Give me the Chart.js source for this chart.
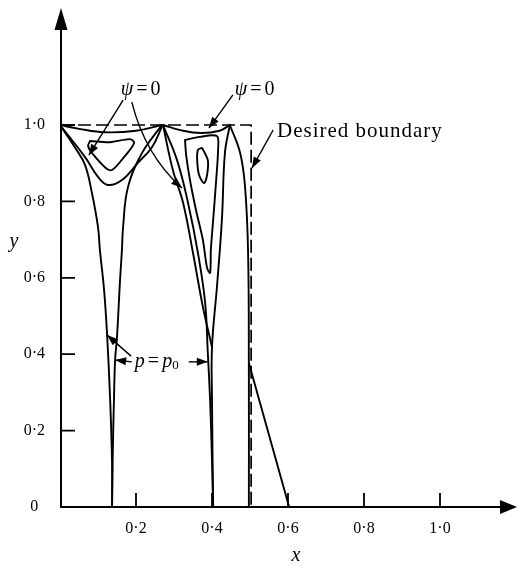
<!DOCTYPE html>
<html>
<head>
<meta charset="utf-8">
<script src="https://cdn.jsdelivr.net/npm/chart.js@4.4.1/dist/chart.umd.min.js"></script>
<style>
  html, body { margin: 0; padding: 0; background: #fff; }
  #wrap { width: 518px; height: 568px; }
</style>
</head>
<body>
<div id="wrap"><canvas id="cavityChart"></canvas></div>
<script>
// tick labels
const xTicks = [0.2, 0.4, 0.6, 0.8, 1.0];
const yTicks = [0, 0.2, 0.4, 0.6, 0.8, 1.0];

// curves, [x, y]
const topArcLeft  = [[0, 1.0], [0.05, 0.99], [0.118, 0.981], [0.2, 0.985], [0.268, 1.0]];
const topArcRight = [[0.271, 1.0], [0.32, 0.986], [0.37, 0.979], [0.42, 0.985], [0.447, 1.0]];

const lobe1Left  = [[0, 1.0], [0.039, 0.942], [0.066, 0.895], [0.084, 0.822], [0.1, 0.733], [0.105, 0.673],
                    [0.116, 0.568], [0.124, 0.45], [0.132, 0.28], [0.137, 0.115], [0.137, 0]];
const lobe1Right = [[0.268, 1.0], [0.216, 0.927], [0.179, 0.838], [0.166, 0.733], [0.163, 0.673], [0.158, 0.594],
                    [0.15, 0.445], [0.145, 0.385], [0.142, 0.28], [0.139, 0.149], [0.137, 0]];
const lobe1Vee   = [[0, 1.0], [0.066, 0.916], [0.1, 0.864], [0.126, 0.843], [0.163, 0.856], [0.205, 0.901],
                    [0.242, 0.942], [0.268, 0.995]];
const lobe1Loop  = [[0.079, 0.958], [0.132, 0.955], [0.184, 0.963], [0.195, 0.953], [0.171, 0.919], [0.137, 0.882],
                    [0.121, 0.887], [0.084, 0.927], [0.074, 0.945], [0.079, 0.958]];

const lobe2Sweep = [[0.271, 1.0], [0.297, 0.882], [0.324, 0.796], [0.35, 0.665], [0.376, 0.524], [0.4, 0.419]];
const lobe2Left  = [[0.271, 1.0], [0.308, 0.908], [0.337, 0.796], [0.363, 0.665], [0.382, 0.534], [0.389, 0.403],
                    [0.395, 0.28], [0.4, 0.123], [0.403, 0]];
const lobe2U     = [[0.329, 0.961], [0.368, 0.969], [0.413, 0.971], [0.416, 0.935], [0.411, 0.856], [0.403, 0.751],
                    [0.397, 0.673], [0.395, 0.613], [0.387, 0.626], [0.376, 0.699], [0.358, 0.777], [0.342, 0.856],
                    [0.332, 0.921], [0.329, 0.961]];
const lobe2Loop  = [[0.374, 0.94], [0.389, 0.908], [0.387, 0.869], [0.379, 0.848], [0.366, 0.869], [0.361, 0.908],
                    [0.363, 0.935], [0.374, 0.94]];
const lobe2Right = [[0.447, 1.0], [0.434, 0.927], [0.426, 0.751], [0.413, 0.576], [0.4, 0.419], [0.4, 0.28], [0.403, 0]];

const outerStreamline = [[0.447, 1.0], [0.474, 0.927], [0.487, 0.838], [0.495, 0.665], [0.497, 0.359], [0.497, 0]];
const jetLine = [[0.497, 0.377], [0.603, 0]];
const desiredBoundary = [[0, 1.0], [0.503, 1.0], [0.503, 0]];

const fmt = v => (v === 0 ? '0' : v.toFixed(1).replace('.', '\u00b7'));
const pts = arr => arr.map(p => ({ x: p[0], y: p[1] }));

function curve(arr, extra) {
  return Object.assign({
    data: pts(arr),
    showLine: true,
    borderColor: '#000',
    borderWidth: 1.9,
    pointRadius: 0,
    tension: 0.4,
    fill: false,
    borderCapStyle: 'round',
    borderJoinStyle: 'round'
  }, extra || {});
}

const SERIF = "'Liberation Serif', 'DejaVu Serif', serif";
Chart.defaults.font.family = SERIF;
Chart.defaults.color = '#000';

function arrowHead(ctx, x0, y0, x1, y1, len, half) {
  const a = Math.atan2(y1 - y0, x1 - x0);
  ctx.beginPath();
  ctx.moveTo(x1, y1);
  ctx.lineTo(x1 - len * Math.cos(a) + half * Math.sin(a), y1 - len * Math.sin(a) - half * Math.cos(a));
  ctx.lineTo(x1 - len * Math.cos(a) - half * Math.sin(a), y1 - len * Math.sin(a) + half * Math.cos(a));
  ctx.closePath();
  ctx.fill();
}

function drawParts(ctx, x, y, parts) {
  parts.forEach(p => {
    ctx.font = p.font;
    ctx.fillText(p.t, x, y + (p.dy || 0));
    x += ctx.measureText(p.t).width + (p.gap || 0);
  });
}

// fixed axis box, no extra label padding
function fixBox(size, key) {
  return s => {
    s[key] = size;
    s.paddingTop = 0; s.paddingBottom = 0; s.paddingLeft = 0; s.paddingRight = 0;
  };
}

// axes with arrows, inward ticks, annotations
const sketchPlugin = {
  id: 'sketch',
  afterDraw(chart) {
    const { ctx, chartArea: a, scales } = chart;
    const X = v => scales.x.getPixelForValue(v);
    const Y = v => scales.y.getPixelForValue(v);
    ctx.save();
    ctx.strokeStyle = '#000';
    ctx.fillStyle = '#000';

    ctx.lineWidth = 2;
    ctx.beginPath();
    ctx.moveTo(a.left + 1, a.bottom);
    ctx.lineTo(a.left + 1, a.top + 10);
    ctx.moveTo(a.left, a.bottom);
    ctx.lineTo(a.right - 10, a.bottom);
    ctx.stroke();
    arrowHead(ctx, a.left + 1, a.bottom, a.left + 1, a.top, 22, 6.5);
    arrowHead(ctx, a.left, a.bottom, a.right - 1, a.bottom, 17, 7);

    ctx.lineWidth = 1.8;
    ctx.beginPath();
    xTicks.forEach(v => { ctx.moveTo(X(v), a.bottom); ctx.lineTo(X(v), a.bottom - 14); });
    yTicks.filter(v => v > 0).forEach(v => { ctx.moveTo(a.left, Y(v)); ctx.lineTo(a.left + 15, Y(v)); });
    ctx.stroke();

    // annotation arrows (data coordinates)
    ctx.lineWidth = 1.4;
    const line = (x0, y0, x1, y1) => {
      ctx.beginPath(); ctx.moveTo(X(x0), Y(y0)); ctx.lineTo(X(x1), Y(y1)); ctx.stroke();
      arrowHead(ctx, X(x0), Y(y0), X(x1), Y(y1), 11, 4);
    };
    line(0.166, 1.065, 0.076, 0.921);
    // curved one
    ctx.beginPath();
    ctx.moveTo(X(0.189), Y(1.06));
    ctx.quadraticCurveTo(X(0.224), Y(0.921), X(0.321), Y(0.835));
    ctx.stroke();
    arrowHead(ctx, X(0.224), Y(0.921), X(0.321), Y(0.835), 11, 4);
    line(0.455, 1.079, 0.392, 0.992);
    line(0.561, 0.987, 0.505, 0.887);
    line(0.187, 0.395, 0.124, 0.45);
    line(0.189, 0.38, 0.145, 0.385);
    line(0.339, 0.38, 0.389, 0.38);

    // labels
    ctx.textBaseline = 'middle';
    ctx.textAlign = 'left';
    const it = 'italic 20px ' + SERIF, rm = '20px ' + SERIF;
    drawParts(ctx, X(0.16), Y(1.092), [{ t: '\u03c8', font: it, gap: 3 }, { t: '=', font: rm, gap: 3 }, { t: '0', font: rm }]);
    drawParts(ctx, X(0.46), Y(1.092), [{ t: '\u03c8', font: it, gap: 3 }, { t: '=', font: rm, gap: 3 }, { t: '0', font: rm }]);
    ctx.letterSpacing = '1px';
    drawParts(ctx, X(0.571), Y(0.982), [{ t: 'Desired boundary', font: '21px ' + SERIF }]);
    ctx.letterSpacing = '0px';
    drawParts(ctx, X(0.197), Y(0.38), [
      { t: 'p', font: 'italic 20px ' + SERIF, gap: 3 },
      { t: '=', font: '20px ' + SERIF, gap: 3 },
      { t: 'p', font: 'italic 20px ' + SERIF, gap: 0 },
      { t: '0', font: '13px ' + SERIF, dy: 4 }
    ]);
    ctx.font = 'italic 20px ' + SERIF;
    ctx.textAlign = 'center';
    ctx.fillText('y', 14, 242);
    ctx.fillText('x', 296, 556);
    ctx.restore();
  }
};

const chartEl = document.getElementById('cavityChart');
const cavityChart = new Chart(chartEl, {
  type: 'scatter',
  data: {
    datasets: [
      curve(desiredBoundary, { tension: 0, borderWidth: 1.7, borderDash: [13, 5], borderCapStyle: 'butt' }),
      curve(topArcLeft),
      curve(topArcRight),
      curve(lobe1Left),
      curve(lobe1Right),
      curve(lobe1Vee),
      curve(lobe1Loop, { tension: 0.3 }),
      curve(lobe2Sweep),
      curve(lobe2Left),
      curve(lobe2U, { tension: 0.3 }),
      curve(lobe2Loop, { tension: 0.3 }),
      curve(lobe2Right),
      curve(outerStreamline),
      curve(jetLine, { tension: 0 })
    ]
  },
  options: {
    responsive: true,
    maintainAspectRatio: false,
    animation: false,
    layout: { padding: { top: 8, right: 0, left: 0, bottom: 0 } },
    plugins: { legend: { display: false }, tooltip: { enabled: false } },
    scales: {
      x: {
        type: 'linear',
        min: 0,
        max: 458 / 380,
        afterFit: fixBox(61, 'height'),
        grid: { display: false, drawTicks: false },
        border: { display: false },
        ticks: {
          stepSize: 0.2,
          includeBounds: false,
          autoSkip: false,
          maxRotation: 0,
          padding: 12,
          font: { size: 16 },
          callback: v => {
            const t = xTicks.find(k => Math.abs(k - v) < 1e-6);
            return t === undefined ? null : fmt(t);
          }
        }
      },
      y: {
        type: 'linear',
        min: 0,
        max: 499 / 382,
        afterFit: fixBox(60, 'width'),
        grid: { display: false, drawTicks: false },
        border: { display: false },
        ticks: {
          stepSize: 0.2,
          includeBounds: false,
          autoSkip: false,
          crossAlign: 'center',
          padding: 15,
          font: { size: 16 },
          callback: v => {
            const t = yTicks.find(k => Math.abs(k - v) < 1e-6);
            return t === undefined ? null : fmt(t);
          }
        }
      }
    }
  },
  plugins: [sketchPlugin]
});
</script>
</body>
</html>
